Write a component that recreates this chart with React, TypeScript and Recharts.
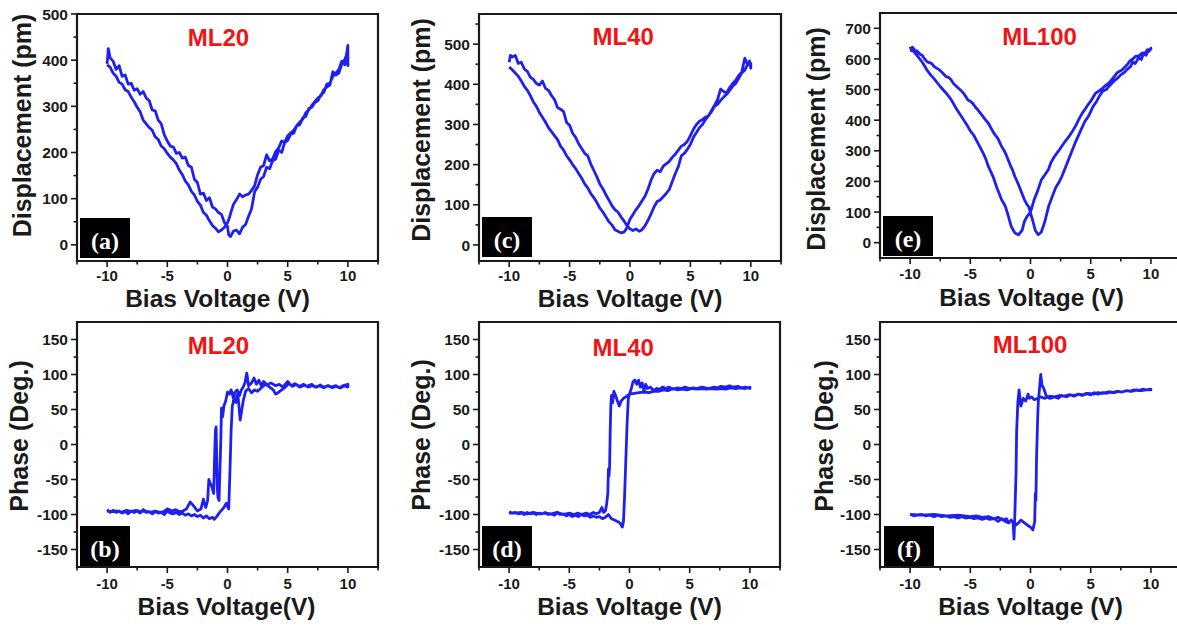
import React from "react";
import { LineChart, Line, XAxis, YAxis, ReferenceArea, Label } from "recharts";

type Pt = [number, number];

// bias sweep axis (shared by every panel)
const biasTicks = [-12.5, -10, -7.5, -5, -2.5, 0, 2.5, 5, 7.5, 10, 12.5];
const biasLabels = [-10, -5, 0, 5, 10];

// y ticks
const ml20DispTicks = [0, 50, 100, 150, 200, 250, 300, 350, 400, 450, 500];
const ml20DispLabels = [0, 100, 200, 300, 400, 500];
const ml40DispTicks = [0, 50, 100, 150, 200, 250, 300, 350, 400, 450, 500, 550];
const ml40DispLabels = [0, 100, 200, 300, 400, 500];
const ml100DispTicks = [0, 50, 100, 150, 200, 250, 300, 350, 400, 450, 500, 550, 600, 650, 700];
const ml100DispLabels = [0, 100, 200, 300, 400, 500, 600, 700];
const phaseTicks = [-150, -125, -100, -75, -50, -25, 0, 25, 50, 75, 100, 125, 150];
const phaseLabels = [-150, -100, -50, 0, 50, 100, 150];

// ML20 displacement (pm): forward sweep -10 -> 10, then back 10 -> -10
const ml20DispUp: Pt[] = [
  [-10, 392], [-9.9, 425], [-9.75, 405], [-9.5, 398], [-9.25, 380], [-9, 388], [-8.75, 365], [-8.5, 368],
  [-8.25, 348], [-8, 350], [-7.75, 335], [-7.5, 338], [-7.25, 326], [-7, 332], [-6.75, 318], [-6.5, 312],
  [-6.25, 292], [-6, 290], [-5.75, 270], [-5.5, 262], [-5.25, 238], [-5, 225], [-4.75, 214], [-4.5, 212],
  [-4.25, 198], [-4, 200], [-3.75, 188], [-3.5, 190], [-3.25, 172], [-3, 168], [-2.75, 142], [-2.5, 135],
  [-2.25, 110], [-2, 112], [-1.75, 96], [-1.5, 102], [-1.25, 82], [-1, 78], [-0.75, 70], [-0.5, 66],
  [-0.25, 48], [0, 40], [0.1, 22], [0.25, 18], [0.5, 30], [0.75, 32], [1, 24], [1.25, 38],
  [1.5, 44], [1.75, 62], [2, 78], [2.25, 115], [2.5, 125], [2.75, 142], [3, 148], [3.25, 168],
  [3.5, 165], [3.75, 182], [4, 186], [4.25, 205], [4.5, 200], [4.75, 222], [5, 226], [5.25, 240],
  [5.5, 242], [5.75, 258], [6, 260], [6.25, 275], [6.5, 278], [6.75, 295], [7, 298], [7.25, 308],
  [7.5, 312], [7.75, 325], [8, 330], [8.25, 348], [8.5, 350], [8.75, 365], [9, 372], [9.25, 380],
  [9.5, 398], [9.75, 390], [10, 432],
];
const ml20DispDown: Pt[] = [
  [10, 388], [9.9, 412], [9.75, 402], [9.5, 392], [9.25, 372], [9, 368], [8.75, 375], [8.5, 346],
  [8.25, 342], [8, 336], [7.75, 322], [7.5, 318], [7.25, 310], [7, 302], [6.75, 292], [6.5, 286],
  [6.25, 272], [6, 266], [5.75, 258], [5.5, 248], [5.25, 242], [5, 236], [4.75, 222], [4.5, 225],
  [4.25, 210], [4, 202], [3.75, 186], [3.5, 182], [3.25, 195], [3, 172], [2.75, 168], [2.5, 152],
  [2.25, 128], [2, 118], [1.75, 110], [1.5, 108], [1.25, 104], [1, 110], [0.75, 98], [0.5, 88],
  [0.3, 72], [0.15, 58], [0, 48], [-0.25, 38], [-0.5, 32], [-0.75, 28], [-1, 36], [-1.25, 42],
  [-1.5, 52], [-1.75, 64], [-2, 70], [-2.25, 86], [-2.5, 94], [-2.75, 108], [-3, 116], [-3.25, 130],
  [-3.5, 138], [-3.75, 152], [-4, 162], [-4.25, 176], [-4.5, 184], [-4.75, 190], [-5, 198], [-5.25, 208],
  [-5.5, 214], [-5.75, 228], [-6, 234], [-6.25, 248], [-6.5, 254], [-6.75, 262], [-7, 270], [-7.25, 288],
  [-7.5, 298], [-7.75, 310], [-8, 320], [-8.25, 332], [-8.5, 336], [-8.75, 348], [-9, 352], [-9.25, 365],
  [-9.5, 372], [-9.75, 385], [-10, 390],
];

// ML40 displacement (pm)
const ml40DispUp: Pt[] = [
  [-10, 455], [-9.9, 472], [-9.75, 468], [-9.5, 472], [-9.25, 452], [-9, 455], [-8.75, 438], [-8.5, 432],
  [-8.25, 418], [-8, 412], [-7.75, 402], [-7.5, 398], [-7.25, 408], [-7, 390], [-6.75, 385], [-6.5, 372],
  [-6.25, 362], [-6, 342], [-5.75, 338], [-5.5, 332], [-5.25, 305], [-5, 298], [-4.75, 278], [-4.5, 268],
  [-4.25, 252], [-4, 240], [-3.75, 228], [-3.5, 222], [-3.25, 202], [-3, 186], [-2.75, 170], [-2.5, 152],
  [-2.25, 140], [-2, 125], [-1.75, 112], [-1.5, 98], [-1.25, 88], [-1, 82], [-0.75, 70], [-0.5, 60],
  [-0.25, 48], [0, 40], [0.25, 36], [0.5, 40], [0.75, 34], [1, 38], [1.25, 48], [1.5, 62],
  [1.75, 78], [2, 95], [2.25, 108], [2.5, 112], [2.75, 120], [3, 128], [3.25, 138], [3.5, 158],
  [3.75, 178], [4, 195], [4.25, 222], [4.5, 228], [4.75, 238], [5, 250], [5.25, 268], [5.5, 280],
  [5.75, 292], [6, 300], [6.25, 312], [6.5, 322], [6.75, 332], [7, 345], [7.25, 350], [7.5, 360],
  [7.75, 368], [8, 375], [8.25, 385], [8.5, 395], [8.75, 402], [9, 415], [9.25, 428], [9.5, 435],
  [9.75, 450], [10, 452],
];
const ml40DispDown: Pt[] = [
  [10, 440], [9.9, 458], [9.75, 448], [9.5, 465], [9.25, 430], [9, 422], [8.75, 410], [8.5, 402],
  [8.25, 392], [8, 378], [7.75, 382], [7.5, 388], [7.25, 362], [7, 348], [6.75, 335], [6.5, 322],
  [6.25, 318], [6, 312], [5.75, 308], [5.5, 300], [5.25, 288], [5, 272], [4.75, 258], [4.5, 250],
  [4.25, 246], [4, 236], [3.75, 226], [3.5, 218], [3.25, 208], [3, 202], [2.75, 196], [2.5, 182],
  [2.25, 186], [2, 178], [1.75, 162], [1.5, 140], [1.25, 122], [1, 110], [0.75, 98], [0.5, 88],
  [0.25, 76], [0, 64], [-0.15, 52], [-0.3, 40], [-0.5, 32], [-0.75, 30], [-1, 34], [-1.25, 38],
  [-1.5, 50], [-1.75, 58], [-2, 70], [-2.25, 82], [-2.5, 92], [-2.75, 106], [-3, 118], [-3.25, 128],
  [-3.5, 142], [-3.75, 152], [-4, 166], [-4.25, 178], [-4.5, 190], [-4.75, 200], [-5, 212], [-5.25, 222],
  [-5.5, 236], [-5.75, 246], [-6, 262], [-6.25, 272], [-6.5, 282], [-6.75, 292], [-7, 306], [-7.25, 318],
  [-7.5, 330], [-7.75, 345], [-8, 356], [-8.25, 372], [-8.5, 385], [-8.75, 395], [-9, 408], [-9.25, 420],
  [-9.5, 428], [-9.75, 436], [-10, 443],
];

// ML100 displacement (pm)
const ml100DispUp: Pt[] = [
  [-10, 640], [-9.9, 630], [-9.8, 638], [-9.6, 628], [-9.4, 625], [-9.2, 616], [-9, 612], [-8.8, 600],
  [-8.6, 591], [-8.4, 588], [-8.2, 585], [-8, 575], [-7.8, 570], [-7.6, 565], [-7.4, 558], [-7.2, 550],
  [-7, 542], [-6.8, 540], [-6.6, 532], [-6.4, 520], [-6.2, 512], [-6, 505], [-5.8, 498], [-5.5, 485],
  [-5.2, 466], [-5, 462], [-4.8, 455], [-4.6, 444], [-4.4, 435], [-4.2, 425], [-4, 415], [-3.75, 402],
  [-3.5, 390], [-3.25, 372], [-3, 355], [-2.7, 340], [-2.4, 314], [-2.2, 302], [-2, 285], [-1.7, 255],
  [-1.5, 238], [-1.3, 216], [-1, 190], [-0.7, 160], [-0.5, 140], [-0.3, 125], [-0.15, 118], [0, 97],
  [0.2, 70], [0.4, 40], [0.65, 26], [0.9, 35], [1.2, 70], [1.5, 118], [1.8, 150], [2.1, 180],
  [2.4, 200], [2.6, 216], [3, 255], [3.4, 295], [3.7, 325], [4.1, 360], [4.5, 395], [4.8, 412],
  [5, 428], [5.2, 445], [5.5, 462], [5.7, 477], [6, 495], [6.3, 500], [6.5, 510], [6.8, 522],
  [7, 530], [7.3, 540], [7.5, 548], [7.8, 556], [8, 565], [8.3, 575], [8.5, 590], [8.7, 585],
  [9, 605], [9.2, 598], [9.4, 618], [9.6, 612], [9.8, 630], [10, 632],
];
const ml100DispDown: Pt[] = [
  [10, 635], [9.85, 625], [9.7, 630], [9.5, 618], [9.3, 620], [9, 610], [8.7, 608], [8.5, 600],
  [8.3, 595], [8, 580], [7.8, 572], [7.6, 564], [7.4, 560], [7.2, 555], [7, 545], [6.8, 535],
  [6.5, 521], [6.2, 512], [6, 505], [5.7, 496], [5.4, 488], [5.2, 475], [5, 462], [4.8, 452],
  [4.6, 440], [4.3, 423], [4, 402], [3.8, 385], [3.5, 365], [3.2, 347], [2.9, 332], [2.6, 315],
  [2.3, 298], [2, 282], [1.7, 262], [1.5, 240], [1.2, 222], [0.9, 205], [0.6, 170], [0.3, 140],
  [0, 100], [-0.3, 85], [-0.5, 70], [-0.7, 40], [-1, 26], [-1.3, 32], [-1.6, 53], [-1.9, 95],
  [-2.1, 120], [-2.4, 140], [-2.8, 180], [-3.1, 215], [-3.5, 249], [-3.7, 272], [-3.9, 290], [-4.3, 320],
  [-4.7, 350], [-5, 365], [-5.2, 379], [-5.7, 410], [-6.2, 440], [-6.6, 468], [-7, 488], [-7.5, 510],
  [-8, 535], [-8.3, 548], [-8.6, 564], [-9, 590], [-9.4, 610], [-9.7, 625], [-10, 629],
];

// ML20 phase (deg)
const ml20PhaseUp: Pt[] = [
  [-10, -93], [-9.75, -97], [-9.5, -94], [-9.25, -97], [-9, -95], [-8.75, -98], [-8.5, -96], [-8.25, -99],
  [-8, -95], [-7.75, -97], [-7.5, -95], [-7.25, -98], [-7, -93], [-6.75, -97], [-6.5, -96], [-6.25, -99],
  [-6, -96], [-5.75, -98], [-5.5, -97], [-5.25, -100], [-5, -95], [-4.75, -98], [-4.5, -99], [-4.25, -97],
  [-4, -100], [-3.75, -98], [-3.5, -101], [-3.25, -99], [-3, -102], [-2.75, -100], [-2.5, -103], [-2.25, -101],
  [-2, -105], [-1.75, -102], [-1.5, -106], [-1.25, -104], [-1.1, -107], [-0.9, -103], [-0.7, -98], [-0.5, -94],
  [-0.3, -90], [-0.1, -84], [0, -88], [0.1, -92], [0.2, -40], [0.3, 20], [0.4, 55], [0.5, 62],
  [0.6, 74], [0.8, 78], [1, 70], [1.15, 78], [1.3, 82], [1.45, 88], [1.6, 102], [1.75, 84],
  [2, 88], [2.2, 95], [2.4, 86], [2.6, 92], [2.8, 84], [3, 90], [3.3, 85], [3.6, 88],
  [4, 84], [4.3, 86], [4.6, 82], [5, 90], [5.3, 84], [5.6, 87], [6, 83], [6.3, 86],
  [6.6, 83], [7, 86], [7.3, 82], [7.6, 84], [8, 81], [8.3, 84], [8.6, 82], [9, 84],
  [9.3, 81], [9.6, 84], [10, 86],
];
const ml20PhaseDown: Pt[] = [
  [10, 82], [9.7, 84], [9.4, 81], [9, 83], [8.7, 81], [8.4, 84], [8, 82], [7.7, 85],
  [7.4, 82], [7, 84], [6.7, 82], [6.4, 85], [6, 82], [5.7, 86], [5.4, 83], [5.1, 87],
  [4.8, 82], [4.5, 78], [4.2, 74], [4, 72], [3.8, 78], [3.5, 82], [3.2, 86], [3, 84],
  [2.75, 80], [2.5, 76], [2.25, 78], [2, 74], [1.75, 80], [1.5, 76], [1.3, 62], [1.15, 45],
  [1.05, 35], [0.95, 55], [0.85, 72], [0.7, 60], [0.5, 66], [0.3, 78], [0.15, 72], [0, 75],
  [-0.15, 62], [-0.3, 55], [-0.4, 40], [-0.5, 52], [-0.55, 10], [-0.6, -20], [-0.7, -80], [-0.8, -75],
  [-0.85, -60], [-0.95, 25], [-1, 20], [-1.05, -5], [-1.15, -70], [-1.3, -60], [-1.45, -55], [-1.55, -50],
  [-1.65, -80], [-1.8, -90], [-1.95, -82], [-2, -78], [-2.2, -92], [-2.5, -95], [-2.8, -88], [-3.1, -82],
  [-3.4, -92], [-3.7, -95], [-4, -96], [-4.3, -93], [-4.6, -95], [-5, -92], [-5.3, -96], [-5.6, -97],
  [-6, -95], [-6.4, -97], [-6.8, -95], [-7.2, -96], [-7.6, -94], [-8, -96], [-8.4, -94], [-8.8, -97],
  [-9.2, -95], [-9.6, -96], [-10, -95],
];

// ML40 phase (deg)
const ml40PhaseUp: Pt[] = [
  [-10, -96], [-9.75, -98], [-9.5, -97], [-9.25, -99], [-9, -98], [-8.75, -100], [-8.5, -97], [-8.25, -99],
  [-8, -98], [-7.75, -100], [-7.5, -98], [-7.25, -99], [-7, -97], [-6.75, -100], [-6.5, -99], [-6.25, -101],
  [-6, -98], [-5.75, -100], [-5.5, -99], [-5.25, -102], [-5, -100], [-4.75, -103], [-4.5, -101], [-4.25, -103],
  [-4, -100], [-3.75, -102], [-3.5, -101], [-3.25, -104], [-3, -102], [-2.75, -104], [-2.5, -103], [-2.25, -106],
  [-2, -104], [-1.75, -100], [-1.5, -106], [-1.25, -108], [-1, -110], [-0.8, -112], [-0.6, -118], [-0.5, -110],
  [-0.4, -70], [-0.3, -20], [-0.2, 30], [-0.1, 65], [0, 72], [0.15, 80], [0.3, 90], [0.45, 92],
  [0.6, 86], [0.75, 92], [0.9, 82], [1.05, 88], [1.2, 76], [1.35, 86], [1.5, 80], [1.75, 82],
  [2, 77], [2.25, 80], [2.5, 79], [2.75, 82], [3, 80], [3.3, 82], [3.6, 79], [4, 81],
  [4.3, 80], [4.6, 82], [5, 80], [5.3, 81], [5.6, 80], [6, 82], [6.3, 81], [6.6, 80],
  [7, 82], [7.3, 81], [7.6, 83], [8, 82], [8.3, 84], [8.6, 82], [9, 83], [9.3, 81],
  [9.6, 82], [10, 80],
];
const ml40PhaseDown: Pt[] = [
  [10, 82], [9.6, 80], [9.2, 81], [8.8, 80], [8.4, 81], [8, 79], [7.6, 80], [7.2, 79],
  [6.8, 80], [6.4, 79], [6, 80], [5.6, 79], [5.2, 80], [4.8, 78], [4.4, 79], [4, 78],
  [3.6, 80], [3.2, 77], [2.8, 78], [2.4, 76], [2, 76], [1.6, 74], [1.2, 75], [0.8, 74],
  [0.4, 73], [0, 72], [-0.3, 68], [-0.5, 66], [-0.7, 62], [-0.85, 55], [-1, 62], [-1.15, 70],
  [-1.3, 76], [-1.4, 60], [-1.5, 70], [-1.55, 55], [-1.6, 20], [-1.65, -30], [-1.7, -45], [-1.75, -35],
  [-1.8, -70], [-1.9, -85], [-2, -95], [-2.15, -97], [-2.3, -90], [-2.5, -97], [-2.75, -99], [-3, -97],
  [-3.3, -100], [-3.6, -98], [-4, -100], [-4.3, -98], [-4.6, -100], [-5, -98], [-5.5, -100], [-6, -97],
  [-6.5, -99], [-7, -98], [-7.5, -99], [-8, -97], [-8.5, -99], [-9, -97], [-9.5, -98], [-10, -98],
];

// ML100 phase (deg)
const ml100PhaseUp: Pt[] = [
  [-10, -100], [-9.7, -102], [-9.4, -101], [-9, -100], [-8.7, -102], [-8.4, -101], [-8, -103], [-7.7, -101],
  [-7.4, -103], [-7, -102], [-6.7, -104], [-6.4, -103], [-6, -105], [-5.7, -103], [-5.4, -105], [-5, -104],
  [-4.7, -106], [-4.4, -105], [-4, -107], [-3.7, -105], [-3.4, -107], [-3, -106], [-2.7, -110], [-2.4, -106],
  [-2.1, -110], [-1.8, -112], [-1.6, -108], [-1.4, -113], [-1.2, -115], [-1, -112], [-0.8, -108], [-0.5, -112],
  [-0.2, -116], [0, -118], [0.2, -122], [0.35, -110], [0.4, -70], [0.45, -80], [0.5, -20], [0.6, 40],
  [0.65, 62], [0.75, 80], [0.85, 100], [0.95, 85], [1.1, 80], [1.3, 70], [1.6, 66], [2, 68],
  [2.3, 66], [2.6, 70], [3, 68], [3.3, 71], [3.6, 69], [4, 72], [4.3, 70], [4.6, 73],
  [5, 71], [5.3, 74], [5.6, 72], [6, 74], [6.3, 73], [6.6, 75], [7, 74], [7.3, 76],
  [7.6, 75], [8, 77], [8.3, 76], [8.6, 78], [9, 77], [9.3, 79], [9.6, 78], [10, 78],
];
const ml100PhaseDown: Pt[] = [
  [10, 79], [9.6, 78], [9.2, 77], [8.8, 78], [8.4, 76], [8, 77], [7.6, 75], [7.2, 76],
  [6.8, 74], [6.4, 75], [6, 73], [5.6, 74], [5.2, 72], [4.8, 73], [4.4, 71], [4, 72],
  [3.6, 70], [3.2, 71], [2.8, 69], [2.4, 70], [2, 68], [1.6, 69], [1.2, 66], [0.8, 68],
  [0.5, 65], [0.3, 64], [0.1, 68], [-0.1, 66], [-0.2, 72], [-0.4, 62], [-0.6, 66], [-0.8, 55],
  [-0.95, 78], [-1.05, 60], [-1.15, 20], [-1.2, -40], [-1.3, -100], [-1.37, -135], [-1.45, -110], [-1.6, -108],
  [-1.8, -112], [-2, -106], [-2.3, -108], [-2.7, -104], [-3, -106], [-3.5, -103], [-4, -104], [-4.5, -102],
  [-5, -103], [-6, -101], [-7, -102], [-8, -100], [-9, -101], [-10, -100],
];

const SANS = "'Liberation Sans', Arial, Helvetica, sans-serif";
const SERIF = "'Liberation Serif', 'Times New Roman', serif";
const BLUE = "#1f1ff0";
const INK = "#1a1a1a";

const makeYTick = (majors: number[]) => (props: any) => {
  const { x, y, payload } = props;
  const major = majors.includes(payload.value);
  return (
    <g>
      <line x1={x} x2={x - (major ? 6 : 3.5)} y1={y} y2={y} stroke={INK} strokeWidth={1.6} />
      {major && (
        <text x={x - 9} y={y} dy="0.36em" textAnchor="end" fontSize={15.5} fontWeight="bold" fill={INK} fontFamily={SANS}>
          {payload.value}
        </text>
      )}
    </g>
  );
};

const makeXTick = (gap: number) => (props: any) => {
  const { x, y, payload } = props;
  const major = biasLabels.includes(payload.value);
  return (
    <g>
      <line x1={x} x2={x} y1={y} y2={y + (major ? 6 : 3.5)} stroke={INK} strokeWidth={1.6} />
      {major && (
        <text x={x} y={y + gap} dy="0.36em" textAnchor="middle" fontSize={15} fontWeight="bold" fill={INK} fontFamily={SANS}>
          {payload.value}
        </text>
      )}
    </g>
  );
};

interface PanelProps {
  up: Pt[];
  down: Pt[];
  left: number;
  top: number;
  plot: [number, number, number, number]; // left, right, top, bottom (page px)
  yDomain: [number, number];
  yTicks: number[];
  yLabels: number[];
  yTitle: string;
  yTitleX: number;
  yTitleDy: number;
  xTickGap: number;
  xTitle: string;
  xTitleBaseline: number;
  xTitleDx: number;
  title: string;
  titleAt: [number, number];
  tag: string;
  tagAt: [number, number];
}

const W = 392;
const H = 314;

function Panel(p: PanelProps) {
  const [pl, pr, pt, pb] = p.plot;
  const rows = [...p.up, ...p.down].map(([v, y]) => ({ v, y }));
  const xHeight = p.top + H - pb;
  return (
    <>
      <div style={{ position: "absolute", left: p.left, top: p.top }}>
        <LineChart
          width={W}
          height={H}
          data={rows}
          margin={{ top: pt - p.top, right: p.left + W - pr, bottom: 0, left: 0 }}
        >
          <XAxis
            dataKey="v"
            type="number"
            domain={[-12.5, 12.5]}
            allowDataOverflow
            ticks={biasTicks}
            interval={0}
            tick={makeXTick(p.xTickGap)}
            tickSize={0}
            tickMargin={0}
            tickLine={false}
            axisLine={false}
            height={xHeight}
          >
            <Label
              value={p.xTitle}
              position="insideBottom"
              offset={p.top + H - p.xTitleBaseline}
              dx={p.xTitleDx}
              fontSize={24.5}
              fontWeight="bold"
              fill={INK}
              fontFamily={SANS}
            />
          </XAxis>
          <YAxis
            type="number"
            domain={p.yDomain}
            allowDataOverflow
            ticks={p.yTicks}
            interval={0}
            tick={makeYTick(p.yLabels)}
            tickSize={0}
            tickMargin={0}
            tickLine={false}
            axisLine={false}
            width={pl - p.left}
          >
            <Label
              value={p.yTitle}
              position="insideLeft"
              angle={-90}
              offset={p.yTitleX - p.left}
              dy={p.yTitleDy}
              fontSize={25}
              fontWeight="bold"
              fill={INK}
              fontFamily={SANS}
              style={{ textAnchor: "middle" }}
            />
          </YAxis>
          <ReferenceArea
            x1={-12.5}
            x2={12.5}
            y1={p.yDomain[0]}
            y2={p.yDomain[1]}
            fill="none"
            fillOpacity={0}
            stroke={INK}
            strokeWidth={2.2}
            ifOverflow="visible"
          />
          <Line
            dataKey="y"
            type="linear"
            stroke={BLUE}
            strokeWidth={2.8}
            strokeLinejoin="round"
            dot={false}
            isAnimationActive={false}
          />
        </LineChart>
      </div>
      <div
        style={{
          position: "absolute",
          left: p.titleAt[0],
          top: p.titleAt[1],
          transform: "translate(-50%, -50%)",
          color: "#f01414",
          fontFamily: SANS,
          fontWeight: "bold",
          fontSize: 24,
          lineHeight: 1,
          whiteSpace: "nowrap",
        }}
      >
        {p.title}
      </div>
      <div
        style={{
          position: "absolute",
          left: p.tagAt[0],
          top: p.tagAt[1],
          width: 50,
          height: 40,
          background: "#000",
          color: "#fff",
          fontFamily: SERIF,
          fontWeight: "bold",
          fontSize: 24,
          lineHeight: "46px",
          textAlign: "center",
        }}
      >
        {p.tag}
      </div>
    </>
  );
}

export default function App() {
  return (
    <div
      style={{
        position: "absolute",
        left: 0,
        top: 0,
        width: 1177,
        height: 628,
        overflow: "hidden",
        background: "#fff",
      }}
    >
      <Panel
        up={ml20DispUp}
        down={ml20DispDown}
        left={0}
        top={0}
        plot={[77, 378, 14, 261]}
        yDomain={[-35, 500]}
        yTicks={ml20DispTicks}
        yLabels={ml20DispLabels}
        yTitle="Displacement (pm)"
        yTitleX={22}
        yTitleDy={-12}
        xTickGap={14.5}
        xTitle="Bias Voltage (V)"
        xTitleBaseline={306.5}
        xTitleDx={-10}
        title="ML20"
        titleAt={[218.5, 38.3]}
        tag="(a)"
        tagAt={[80, 218]}
      />
      <Panel
        up={ml40DispUp}
        down={ml40DispDown}
        left={402}
        top={0}
        plot={[479, 781, 14, 261]}
        yDomain={[-40, 575]}
        yTicks={ml40DispTicks}
        yLabels={ml40DispLabels}
        yTitle="Displacement (pm)"
        yTitleX={420.7}
        yTitleDy={-7.5}
        xTickGap={14.5}
        xTitle="Bias Voltage (V)"
        xTitleBaseline={306.5}
        xTitleDx={0}
        title="ML40"
        titleAt={[623.3, 36.7]}
        tag="(c)"
        tagAt={[482, 217]}
      />
      <Panel
        up={ml100DispUp}
        down={ml100DispDown}
        left={803}
        top={0}
        plot={[880, 1181, 13, 258]}
        yDomain={[-50, 750]}
        yTicks={ml100DispTicks}
        yLabels={ml100DispLabels}
        yTitle="Displacement (pm)"
        yTitleX={815.7}
        yTitleDy={3.5}
        xTickGap={15.5}
        xTitle="Bias Voltage (V)"
        xTitleBaseline={306}
        xTitleDx={1}
        title="ML100"
        titleAt={[1039.5, 36.7]}
        tag="(e)"
        tagAt={[883, 216]}
      />
      <Panel
        up={ml20PhaseUp}
        down={ml20PhaseDown}
        left={0}
        top={314}
        plot={[77, 378, 322, 567]}
        yDomain={[-175, 175]}
        yTicks={phaseTicks}
        yLabels={phaseLabels}
        yTitle="Phase (Deg.)"
        yTitleX={19}
        yTitleDy={-8.5}
        xTickGap={17}
        xTitle="Bias Voltage(V)"
        xTitleBaseline={615}
        xTitleDx={-1}
        title="ML20"
        titleAt={[218.5, 345.8]}
        tag="(b)"
        tagAt={[80, 526]}
      />
      <Panel
        up={ml40PhaseUp}
        down={ml40PhaseDown}
        left={402}
        top={314}
        plot={[479, 780, 322, 567]}
        yDomain={[-175, 175]}
        yTicks={phaseTicks}
        yLabels={phaseLabels}
        yTitle="Phase (Deg.)"
        yTitleX={420.7}
        yTitleDy={-9.5}
        xTickGap={17}
        xTitle="Bias Voltage (V)"
        xTitleBaseline={615}
        xTitleDx={0}
        title="ML40"
        titleAt={[623.3, 347.5]}
        tag="(d)"
        tagAt={[482, 526]}
      />
      <Panel
        up={ml100PhaseUp}
        down={ml100PhaseDown}
        left={803}
        top={314}
        plot={[880, 1181, 322, 567]}
        yDomain={[-175, 175]}
        yTicks={phaseTicks}
        yLabels={phaseLabels}
        yTitle="Phase (Deg.)"
        yTitleX={824}
        yTitleDy={-8.5}
        xTickGap={17}
        xTitle="Bias Voltage (V)"
        xTitleBaseline={615}
        xTitleDx={0}
        title="ML100"
        titleAt={[1030, 345]}
        tag="(f)"
        tagAt={[884, 526]}
      />
    </div>
  );
}
